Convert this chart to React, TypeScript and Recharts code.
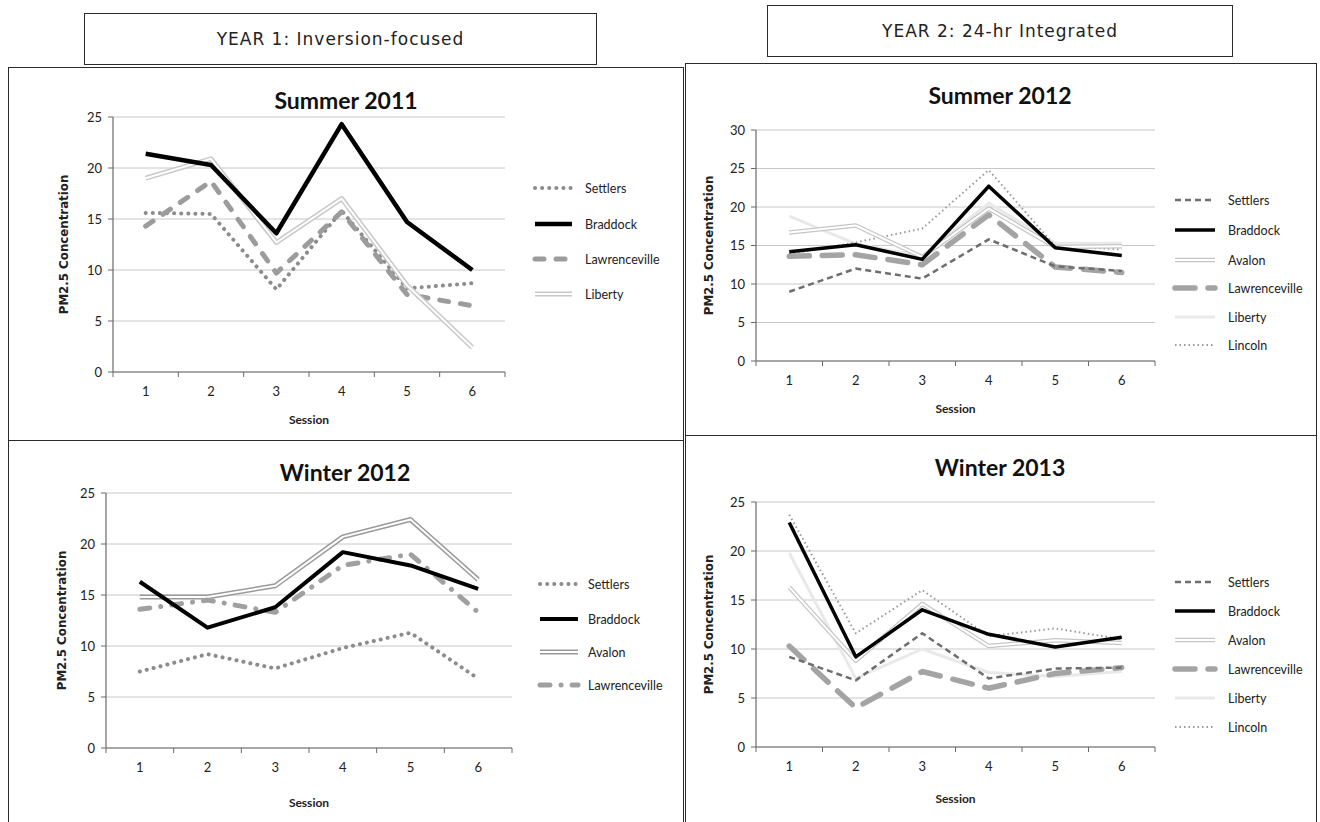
import React from 'react';
import { LineChart, Line, XAxis, YAxis, CartesianGrid } from 'recharts';

// ---------- data ----------
const sessions = [1, 2, 3, 4, 5, 6];
const yTicks25 = [0, 5, 10, 15, 20, 25];
const yTicks30 = [0, 5, 10, 15, 20, 25, 30];

const headerYear1 = 'YEAR 1: Inversion-focused';
const headerYear2 = 'YEAR 2: 24-hr Integrated';

// Summer 2011
const s11Settlers = [15.6, 15.5, 8.1, 15.8, 8.2, 8.7];
const s11Braddock = [21.4, 20.3, 13.6, 24.3, 14.7, 10.0];
const s11Lawrenceville = [14.3, 18.7, 9.7, 15.7, 7.6, 6.5];
const s11Liberty = [19.0, 20.9, 12.7, 17.0, 8.5, 2.4];

// Winter 2012
const w12Settlers = [7.5, 9.2, 7.8, 9.8, 11.3, 6.8];
const w12Braddock = [16.3, 11.8, 13.8, 19.2, 17.9, 15.6];
const w12Avalon = [14.8, 14.8, 15.9, 20.7, 22.4, 16.5];
const w12Lawrenceville = [13.6, 14.5, 13.3, 17.9, 19.0, 13.3];

// Summer 2012
const s12Settlers = [9.0, 12.0, 10.7, 15.8, 12.3, 11.7];
const s12Braddock = [14.2, 15.1, 13.2, 22.7, 14.7, 13.7];
const s12Avalon = [16.7, 17.6, 13.5, 19.8, 14.8, 14.9];
const s12Lawrenceville = [13.6, 13.8, 12.5, 19.0, 12.2, 11.5];
const s12Liberty = [18.8, 15.2, 13.6, 20.5, 15.3, 15.3];
const s12Lincoln = [13.9, 15.4, 17.2, 24.8, 14.9, 14.5];

// Winter 2013
const w13Settlers = [9.2, 6.8, 11.6, 7.0, 8.0, 8.1];
const w13Braddock = [22.9, 9.2, 14.0, 11.5, 10.2, 11.2];
const w13Avalon = [16.3, 8.8, 14.6, 10.3, 10.9, 10.6];
const w13Lawrenceville = [10.3, 4.0, 7.7, 6.0, 7.5, 8.1];
const w13Liberty = [19.8, 7.0, 10.0, 7.6, 7.2, 7.7];
const w13Lincoln = [23.7, 11.6, 16.0, 11.3, 12.1, 11.0];

const buildRows = (series: Record<string, number[]>) =>
  sessions.map((s, i) => {
    const row: Record<string, number> = { session: s };
    Object.keys(series).forEach((k) => {
      row[k] = series[k][i];
    });
    return row;
  });

const dataS11 = buildRows({ Settlers: s11Settlers, Braddock: s11Braddock, Lawrenceville: s11Lawrenceville, Liberty: s11Liberty });
const dataW12 = buildRows({ Settlers: w12Settlers, Braddock: w12Braddock, Avalon: w12Avalon, Lawrenceville: w12Lawrenceville });
const dataS12 = buildRows({ Settlers: s12Settlers, Braddock: s12Braddock, Avalon: s12Avalon, Lawrenceville: s12Lawrenceville, Liberty: s12Liberty, Lincoln: s12Lincoln });
const dataW13 = buildRows({ Settlers: w13Settlers, Braddock: w13Braddock, Avalon: w13Avalon, Lawrenceville: w13Lawrenceville, Liberty: w13Liberty, Lincoln: w13Lincoln });

// ---------- styles ----------
type SeriesStyle = {
  key: string;
  stroke: string;
  width: number;
  dash?: string;
  cap?: 'round' | 'butt';
  inner?: number; // double line inner white width
};

const AXIS = '#6a6a6a';
const GRID = '#c8c8c8';
const TEXT = '#222';
const SANS = "Lato, 'Open Sans', sans-serif";
const LABEL_FONT = "'DejaVu Sans', Verdana, sans-serif";

const y1Styles: Record<string, SeriesStyle> = {
  Settlers: { key: 'Settlers', stroke: '#8c8c8c', width: 4, dash: '0.1 7', cap: 'round' },
  Braddock: { key: 'Braddock', stroke: '#000', width: 4.5 },
  Lawrenceville: { key: 'Lawrenceville', stroke: '#9c9c9c', width: 5, dash: '9 12', cap: 'round' },
  Liberty: { key: 'Liberty', stroke: '#c8c8c8', width: 5, inner: 2 },
};

const w12Styles: Record<string, SeriesStyle> = {
  Settlers: { key: 'Settlers', stroke: '#8c8c8c', width: 4, dash: '0.1 7', cap: 'round' },
  Braddock: { key: 'Braddock', stroke: '#000', width: 4 },
  Avalon: { key: 'Avalon', stroke: '#9a9a9a', width: 5, inner: 2 },
  Lawrenceville: { key: 'Lawrenceville', stroke: '#a0a0a0', width: 5, dash: '10 11 0.1 11', cap: 'round' },
};

const y2Styles: Record<string, SeriesStyle> = {
  Settlers: { key: 'Settlers', stroke: '#6e6e6e', width: 2.5, dash: '6 4' },
  Braddock: { key: 'Braddock', stroke: '#000', width: 3.5 },
  Avalon: { key: 'Avalon', stroke: '#c6c6c6', width: 4.5, inner: 2 },
  Lawrenceville: { key: 'Lawrenceville', stroke: '#a4a4a4', width: 5.5, dash: '20 13', cap: 'round' },
  Liberty: { key: 'Liberty', stroke: '#e9e9e9', width: 3 },
  Lincoln: { key: 'Lincoln', stroke: '#9a9a9a', width: 2, dash: '1.5 3' },
};

// ---------- panel config ----------
type PanelCfg = {
  left: number;
  top: number;
  width: number;
  height: number;
  margin: { top: number; right: number; left: number; bottom: number };
  yAxisWidth: number;
  xAxisHeight: number;
  yLabelX: number;
  xLabelY: number;
  yMax: number;
  yTicks: number[];
  data: Record<string, number>[];
  drawOrder: string[];
  legendOrder: string[];
  styles: Record<string, SeriesStyle>;
  title: string;
  titleX: number;
  titleY: number;
  legendX0: number;
  legendX1: number;
  legendTextX: number;
  legendRows: number[];
};

const panels: PanelCfg[] = [
  {
    left: 8, top: 67, width: 676, height: 374,
    margin: { top: 50, right: 179, left: 25, bottom: 9 },
    yAxisWidth: 80, xAxisHeight: 60, yLabelX: 56, xLabelY: 357,
    yMax: 25, yTicks: yTicks25, data: dataS11,
    drawOrder: ['Settlers', 'Lawrenceville', 'Liberty', 'Braddock'],
    legendOrder: ['Settlers', 'Braddock', 'Lawrenceville', 'Liberty'],
    styles: y1Styles, title: 'Summer 2011', titleX: 346, titleY: 100,
    legendX0: 535, legendX1: 572, legendTextX: 585, legendRows: [188, 224, 259, 294],
  },
  {
    left: 8, top: 441, width: 676, height: 381,
    margin: { top: 52, right: 172, left: 28, bottom: 14 },
    yAxisWidth: 70, xAxisHeight: 60, yLabelX: 54, xLabelY: 366,
    yMax: 25, yTicks: yTicks25, data: dataW12,
    drawOrder: ['Settlers', 'Avalon', 'Lawrenceville', 'Braddock'],
    legendOrder: ['Settlers', 'Braddock', 'Avalon', 'Lawrenceville'],
    styles: w12Styles, title: 'Winter 2012', titleX: 345, titleY: 472,
    legendX0: 540, legendX1: 578, legendTextX: 588, legendRows: [584, 619, 652, 685],
  },
  {
    left: 685, top: 63, width: 632, height: 373,
    margin: { top: 67, right: 162, left: 11, bottom: 15 },
    yAxisWidth: 60, xAxisHeight: 60, yLabelX: 24, xLabelY: 350,
    yMax: 30, yTicks: yTicks30, data: dataS12,
    drawOrder: ['Liberty', 'Lincoln', 'Avalon', 'Lawrenceville', 'Settlers', 'Braddock'],
    legendOrder: ['Settlers', 'Braddock', 'Avalon', 'Lawrenceville', 'Liberty', 'Lincoln'],
    styles: y2Styles, title: 'Summer 2012', titleX: 1000, titleY: 95,
    legendX0: 1175, legendX1: 1215, legendTextX: 1228, legendRows: [200, 230, 260, 288, 317, 345],
  },
  {
    left: 685, top: 436, width: 632, height: 386,
    margin: { top: 66, right: 162, left: 11, bottom: 15 },
    yAxisWidth: 60, xAxisHeight: 60, yLabelX: 24, xLabelY: 367,
    yMax: 25, yTicks: yTicks25, data: dataW13,
    drawOrder: ['Liberty', 'Lincoln', 'Avalon', 'Lawrenceville', 'Settlers', 'Braddock'],
    legendOrder: ['Settlers', 'Braddock', 'Avalon', 'Lawrenceville', 'Liberty', 'Lincoln'],
    styles: y2Styles, title: 'Winter 2013', titleX: 1000, titleY: 467,
    legendX0: 1175, legendX1: 1215, legendTextX: 1228, legendRows: [582, 611, 640, 669, 698, 727],
  },
];

const X_TICK_SIZE = 5;
const X_TICK_MARGIN = 10;

const makeXTick = (half: number, last: number) => (props: any) => {
  const { x, y, payload } = props;
  const axisY = y - X_TICK_SIZE - X_TICK_MARGIN;
  return (
    <g>
      <line x1={x - half} x2={x - half} y1={axisY} y2={axisY + X_TICK_SIZE} stroke={AXIS} strokeWidth={1} />
      {payload.value === last && (
        <line x1={x + half} x2={x + half} y1={axisY} y2={axisY + X_TICK_SIZE} stroke={AXIS} strokeWidth={1} />
      )}
      <text x={x} y={y} dy="0.71em" textAnchor="middle" fontFamily={SANS} fontSize={13} fill={TEXT}>
        {payload.value}
      </text>
    </g>
  );
};

const renderSeries = (s: SeriesStyle) => {
  const out = [
    <Line
      key={s.key}
      type="linear"
      dataKey={s.key}
      xAxisId="x"
      stroke={s.stroke}
      strokeWidth={s.width}
      strokeDasharray={s.dash}
      strokeLinecap={s.cap ?? 'butt'}
      strokeLinejoin="round"
      dot={false}
      activeDot={false}
      isAnimationActive={false}
      legendType="none"
    />,
  ];
  if (s.inner) {
    out.push(
      <Line
        key={s.key + '-inner'}
        type="linear"
        dataKey={s.key}
        xAxisId="x"
        stroke="#fff"
        strokeWidth={s.inner}
        strokeLinejoin="round"
        dot={false}
        activeDot={false}
        isAnimationActive={false}
        legendType="none"
      />
    );
  }
  return out;
};

const Panel = ({ cfg }: { cfg: PanelCfg }) => {
  const plotLeft = cfg.margin.left + cfg.yAxisWidth;
  const plotW = cfg.width - plotLeft - cfg.margin.right;
  const plotH = cfg.height - cfg.margin.top - cfg.margin.bottom - cfg.xAxisHeight;
  const half = plotW / 12;
  const yMid = cfg.margin.top + plotH / 2;
  const xMid = plotLeft + plotW / 2;
  return (
    <div style={{ position: 'absolute', left: cfg.left, top: cfg.top, width: cfg.width, height: cfg.height }}>
      <LineChart width={cfg.width} height={cfg.height} data={cfg.data} margin={cfg.margin}>
        <CartesianGrid vertical={false} stroke={GRID} strokeWidth={1} />
        <XAxis
          xAxisId="x"
          type="number"
          dataKey="session"
          domain={[0.5, 6.5]}
          ticks={sessions}
          interval={0}
          height={cfg.xAxisHeight}
          tickLine={false}
          tickSize={X_TICK_SIZE}
          tickMargin={X_TICK_MARGIN}
          axisLine={{ stroke: AXIS, strokeWidth: 1.2 }}
          tick={makeXTick(half, sessions[sessions.length - 1])}
          label={() => (
            <text x={xMid} y={cfg.xLabelY} textAnchor="middle" fontFamily={SANS} fontWeight={700} fontSize={12} fill={TEXT}>
              Session
            </text>
          )}
        />
        <YAxis
          type="number"
          domain={[0, cfg.yMax]}
          ticks={cfg.yTicks}
          interval={0}
          width={cfg.yAxisWidth}
          tickSize={5}
          tickMargin={6}
          tickLine={{ stroke: AXIS }}
          axisLine={{ stroke: AXIS, strokeWidth: 1.2 }}
          tick={{ fontFamily: SANS, fontSize: 13, fill: TEXT }}
          label={() => (
            <text
              x={cfg.yLabelX}
              y={yMid}
              transform={`rotate(-90 ${cfg.yLabelX} ${yMid})`}
              textAnchor="middle"
              dominantBaseline="central"
              fontFamily={LABEL_FONT}
              fontWeight={700}
              fontSize={11.8}
              fill={TEXT}
            >
              PM2.5 Concentration
            </text>
          )}
        />
        {cfg.drawOrder.flatMap((k) => renderSeries(cfg.styles[k]))}
      </LineChart>
    </div>
  );
};

const LegendSample = ({ s, x0, x1, y }: { s: SeriesStyle; x0: number; x1: number; y: number }) => (
  <g>
    <line x1={x0} x2={x1} y1={y} y2={y} stroke={s.stroke} strokeWidth={s.width} strokeDasharray={s.dash} strokeLinecap={s.cap ?? 'butt'} />
    {s.inner && <line x1={x0} x2={x1} y1={y} y2={y} stroke="#fff" strokeWidth={s.inner} />}
  </g>
);

const Legends = () => (
  <svg width={1320} height={822} style={{ position: 'absolute', left: 0, top: 0, pointerEvents: 'none' }}>
    {panels.map((p, pi) =>
      p.legendOrder.map((k, i) => (
        <g key={pi + '-' + k}>
          <LegendSample s={p.styles[k]} x0={p.legendX0} x1={p.legendX1} y={p.legendRows[i]} />
          <text x={p.legendTextX} y={p.legendRows[i]} dominantBaseline="central" fontFamily={SANS} fontSize={12.5} fill={TEXT}>
            {k}
          </text>
        </g>
      ))
    )}
  </svg>
);

const border = '1.5px solid #2a2a2a';

export default function App() {
  return (
    <div style={{ position: 'absolute', left: 0, top: 0, width: 1320, height: 822, overflow: 'hidden', background: '#fff' }}>
      {/* panel frames */}
      <div style={{ position: 'absolute', left: 8, top: 67, width: 676, height: 780, borderLeft: border, borderTop: border, borderRight: border, boxSizing: 'border-box' }} />
      <div style={{ position: 'absolute', left: 8, top: 440, width: 676, height: 0, borderTop: border }} />
      <div style={{ position: 'absolute', left: 685, top: 63, width: 632, height: 780, borderLeft: border, borderTop: border, borderRight: border, boxSizing: 'border-box' }} />
      <div style={{ position: 'absolute', left: 685, top: 435, width: 632, height: 0, borderTop: border }} />

      {panels.map((p, i) => (
        <Panel key={i} cfg={p} />
      ))}

      {/* titles */}
      {panels.map((p, i) => (
        <div
          key={'t' + i}
          style={{
            position: 'absolute', left: p.titleX - 200, top: p.titleY - 15, width: 400, height: 30, lineHeight: '30px',
            textAlign: 'center', fontFamily: SANS, fontWeight: 700, fontSize: 23, color: '#111',
          }}
        >
          {p.title}
        </div>
      ))}

      <Legends />

      {/* year headers */}
      <div
        style={{
          position: 'absolute', left: 84, top: 13, width: 513, height: 52, border, boxSizing: 'border-box', background: '#fff',
          display: 'flex', alignItems: 'center', justifyContent: 'center', fontFamily: LABEL_FONT, fontSize: 17, letterSpacing: 1, color: '#222',
        }}
      >
        {headerYear1}
      </div>
      <div
        style={{
          position: 'absolute', left: 767, top: 5, width: 466, height: 52, border, boxSizing: 'border-box', background: '#fff',
          display: 'flex', alignItems: 'center', justifyContent: 'center', fontFamily: LABEL_FONT, fontSize: 17, letterSpacing: 1, color: '#222',
        }}
      >
        {headerYear2}
      </div>
    </div>
  );
}
